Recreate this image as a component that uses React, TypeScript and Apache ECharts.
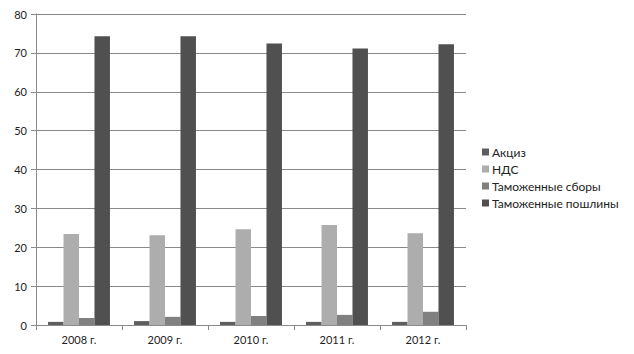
import React, { useEffect, useRef } from "react";
import * as echarts from "echarts";

const categories = ["2008 г.", "2009 г.", "2010 г.", "2011 г.", "2012 г."];
const seriesNames = ["Акциз", "НДС", "Таможенные сборы", "Таможенные пошлины"];
const akciz = [0.8, 1.0, 0.8, 0.8, 0.8];
const nds = [23.4, 23.1, 24.6, 25.7, 23.6];
const sbory = [1.8, 2.1, 2.3, 2.6, 3.4];
const poshliny = [74.3, 74.3, 72.4, 71.1, 72.2];
const colors = ["#5e5e5e", "#adadad", "#808080", "#505050"];

export default function App() {
  const ref = useRef<HTMLDivElement>(null);
  useEffect(() => {
    if (!ref.current) return;
    const chart = echarts.init(ref.current, undefined, { renderer: "svg" });
    const data = [akciz, nds, sbory, poshliny];
    chart.setOption({
      animation: false,
      textStyle: { fontFamily: "Lato" },
      grid: { left: 36, right: 168, top: 14, bottom: 29, containLabel: false },
      legend: {
        orient: "vertical",
        left: 477,
        top: 141,
        itemWidth: 7,
        itemHeight: 7,
        itemGap: 5,
        icon: "rect",
        textStyle: { fontSize: 12, color: "#222", fontFamily: "Lato", padding: [0, 0, 0, -2] },
        data: seriesNames,
      },
      xAxis: {
        type: "category",
        data: categories,
        axisLine: { lineStyle: { color: "#8a8a8a", width: 1 } },
        axisTick: { show: true, length: 5, lineStyle: { color: "#8a8a8a" } },
        axisLabel: { color: "#222", fontSize: 11, margin: 9 },
      },
      yAxis: {
        type: "value",
        min: 0,
        max: 80,
        interval: 10,
        axisLine: { show: true, lineStyle: { color: "#8a8a8a", width: 1 } },
        axisTick: { show: true, length: 5, lineStyle: { color: "#8a8a8a" } },
        axisLabel: { color: "#222", fontSize: 11, margin: 9 },
        splitLine: { lineStyle: { color: "#8a8a8a", width: 1 } },
      },
      series: seriesNames.map((name, i) => ({
        name,
        type: "bar",
        data: data[i],
        barGap: "0%",
        barCategoryGap: "28%",
        itemStyle: { color: colors[i] },
      })),
    });
    return () => chart.dispose();
  }, []);
  return <div ref={ref} style={{ width: 634, height: 354, position: "absolute", left: 0, top: 0, background: "#fff" }} />;
}
